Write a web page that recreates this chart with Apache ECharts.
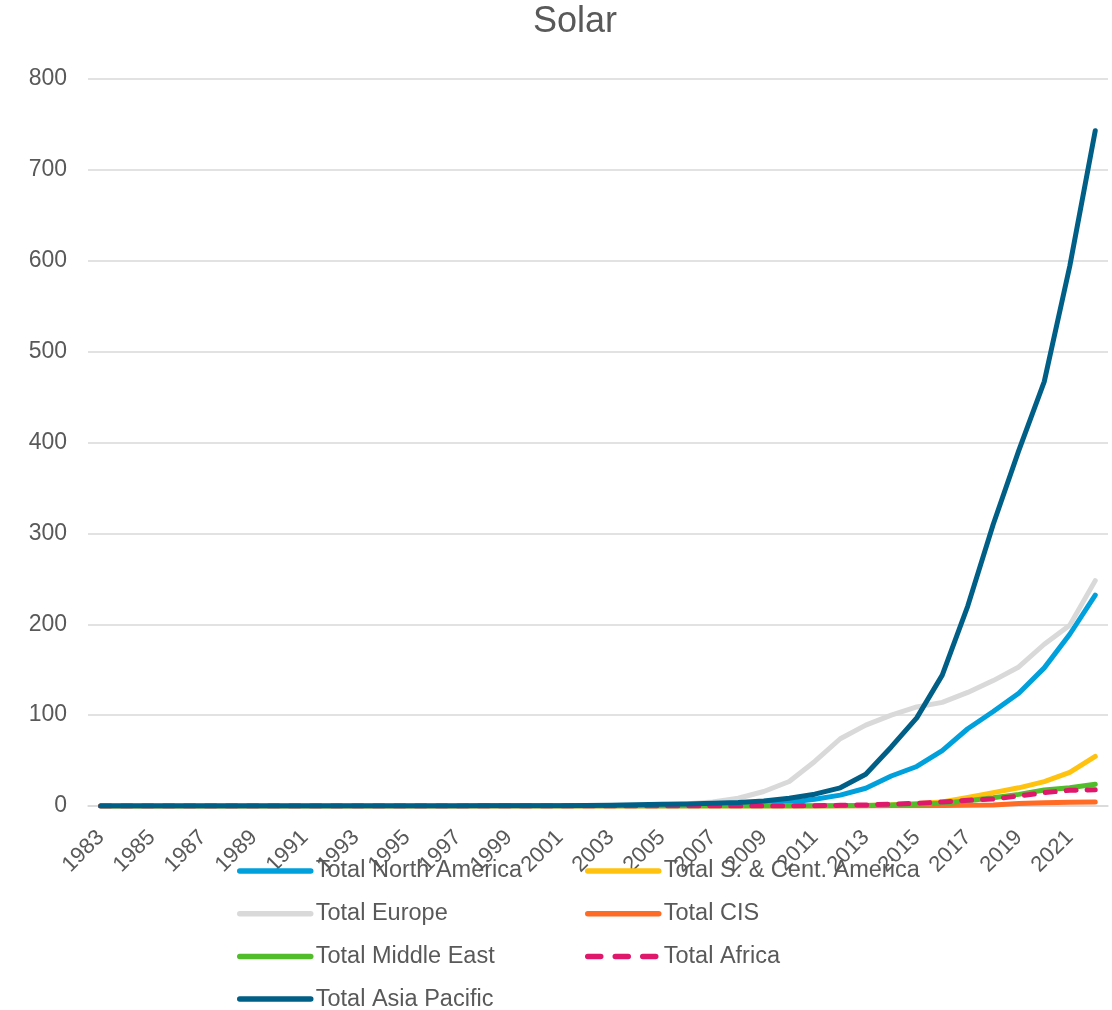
<!DOCTYPE html>
<html>
<head>
<meta charset="utf-8">
<title>Solar</title>
<script src="https://cdn.jsdelivr.net/npm/echarts@6/dist/echarts.min.js"></script>
<style>
  html, body { margin: 0; padding: 0; background: #ffffff; }
  #chart { width: 1112px; height: 1010px; }
</style>
</head>
<body>
<div id="chart"></div>
<script>
// Solar electricity generation by region, 1983-2022
const years = ['1983','1984','1985','1986','1987','1988','1989','1990','1991','1992',
               '1993','1994','1995','1996','1997','1998','1999','2000','2001','2002',
               '2003','2004','2005','2006','2007','2008','2009','2010','2011','2012',
               '2013','2014','2015','2016','2017','2018','2019','2020','2021','2022'];

const northAmerica = [0, 0.01, 0.02, 0.03, 0.05, 0.08, 0.3, 0.35, 0.4, 0.4,
                      0.45, 0.45, 0.5, 0.5, 0.5, 0.5, 0.5, 0.5, 0.55, 0.55,
                      0.55, 0.6, 0.65, 0.7, 0.8, 1.4, 2.3, 4, 7.5, 12,
                      19.5, 33, 43.5, 61, 85, 104, 124, 152, 189, 232];

const southCentAmerica = [0, 0, 0, 0, 0, 0, 0, 0, 0, 0,
                          0, 0, 0, 0, 0, 0, 0, 0, 0, 0,
                          0.01, 0.01, 0.02, 0.02, 0.03, 0.04, 0.05, 0.07, 0.1, 0.2,
                          0.5, 1.3, 2.8, 4.5, 9.5, 14.7, 20, 26.8, 37, 54.5];

const europe = [0, 0, 0, 0, 0, 0, 0, 0, 0.01, 0.02,
                0.03, 0.04, 0.05, 0.06, 0.07, 0.09, 0.11, 0.14, 0.2, 0.3,
                0.45, 0.75, 1.5, 2.6, 4.5, 8.5, 16, 27, 49, 74,
                89, 100, 109, 114, 125, 138, 153, 178, 199, 248];

const cis = [0, 0, 0, 0, 0, 0, 0, 0, 0, 0,
             0, 0, 0, 0, 0, 0, 0, 0, 0, 0,
             0, 0, 0, 0, 0, 0, 0, 0, 0, 0.01,
             0.1, 0.2, 0.4, 0.6, 0.7, 1.2, 2.8, 3.5, 4.2, 4.4];

const middleEast = [0, 0, 0, 0, 0, 0, 0, 0, 0, 0,
                    0, 0, 0, 0, 0, 0, 0, 0, 0, 0,
                    0, 0, 0, 0.01, 0.01, 0.02, 0.03, 0.05, 0.1, 0.2,
                    0.5, 1.0, 2.0, 3.0, 5.9, 9, 12.8, 17.6, 20, 24];

const africa = [0, 0, 0, 0, 0, 0, 0, 0, 0, 0,
                0.01, 0.01, 0.01, 0.01, 0.01, 0.01, 0.01, 0.01, 0.01, 0.01,
                0.02, 0.02, 0.03, 0.03, 0.04, 0.05, 0.07, 0.1, 0.3, 0.7,
                1.2, 2, 3, 4.4, 6.3, 7.7, 11, 14.7, 17.3, 17.8];

const asiaPacific = [0, 0, 0, 0, 0, 0, 0, 0, 0, 0.01,
                     0.02, 0.03, 0.05, 0.07, 0.1, 0.15, 0.2, 0.3, 0.4, 0.6,
                     0.9, 1.3, 1.8, 2.3, 2.9, 3.8, 5.5, 8.5, 13, 20,
                     35, 65, 97, 144, 220, 310, 391, 467, 594, 743];

const yTicks = { min: 0, max: 800, step: 100 };

const FONT = '"Liberation Sans", Arial, Helvetica, sans-serif';
const TEXT = '#595959';
const GRID = '#d9d9d9';

function lineSeries(name, data, color, dashed) {
  return {
    name: name,
    type: 'line',
    data: data,
    symbol: 'none',
    silent: true,
    animation: false,
    lineStyle: {
      color: color,
      width: 5,
      cap: 'round',
      join: 'round',
      type: dashed ? [10, 11] : 'solid'
    },
    itemStyle: { color: color }
  };
}

const legendBase = {
  orient: 'vertical',
  top: 859,
  height: 200,
  itemWidth: 71,
  itemHeight: 14,
  itemGap: 18.7,
  padding: 0,
  selectedMode: false,
  itemStyle: { opacity: 0 },
  lineStyle: { width: 5.5, cap: 'round' },
  textStyle: { fontFamily: FONT, fontSize: 23.5, lineHeight: 24, color: TEXT }
};

const chart = echarts.init(document.getElementById('chart'), null, { renderer: 'canvas' });

chart.setOption({
  backgroundColor: '#ffffff',
  animation: false,
  title: {
    text: 'Solar',
    left: 533,
    top: 4,
    padding: 0,
    textStyle: { fontFamily: FONT, fontSize: 36, fontWeight: 'normal', color: TEXT }
  },
  legend: [
    Object.assign({}, legendBase, {
      left: 237,
      data: ['Total North America', 'Total Europe', 'Total Middle East', 'Total Asia Pacific']
    }),
    Object.assign({}, legendBase, {
      left: 585,
      data: [
        'Total S. & Cent. America',
        'Total CIS',
        { name: 'Total Africa', lineStyle: { type: [13, 14.5], cap: 'round' } }
      ]
    })
  ],
  grid: { left: 88, right: 4, top: 79, bottom: 204, containLabel: false },
  xAxis: {
    type: 'category',
    data: years,
    boundaryGap: true,
    axisLine: { show: true, lineStyle: { color: GRID, width: 1.5 } },
    axisTick: { show: false },
    axisLabel: {
      interval: 1,
      rotate: 45,
      margin: 28,
      fontFamily: FONT,
      fontSize: 22,
      color: TEXT
    },
    splitLine: { show: false }
  },
  yAxis: {
    type: 'value',
    min: yTicks.min,
    max: yTicks.max,
    interval: yTicks.step,
    axisLine: { show: false },
    axisTick: { show: false },
    axisLabel: { margin: 21, fontFamily: FONT, fontSize: 23, color: TEXT },
    splitLine: { show: true, lineStyle: { color: GRID, width: 1.5 } }
  },
  series: [
    lineSeries('Total North America', northAmerica, '#00a0dc', false),
    lineSeries('Total S. & Cent. America', southCentAmerica, '#ffc20e', false),
    lineSeries('Total Europe', europe, '#d9d9d9', false),
    lineSeries('Total CIS', cis, '#ff6b24', false),
    lineSeries('Total Middle East', middleEast, '#52bd2b', false),
    lineSeries('Total Africa', africa, '#e0186c', true),
    lineSeries('Total Asia Pacific', asiaPacific, '#005f86', false)
  ]
});
</script>
</body>
</html>
